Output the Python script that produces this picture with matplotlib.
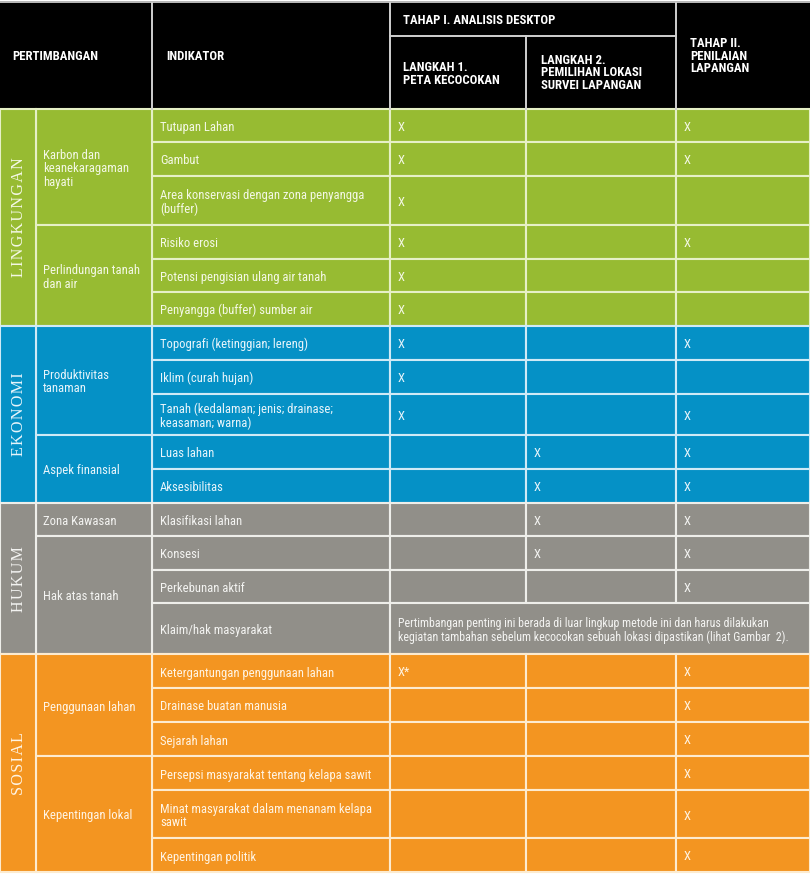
import matplotlib
matplotlib.use("Agg")
import matplotlib.pyplot as plt
from matplotlib.patches import Rectangle

# ---------------- data ----------------
section_names = ["LINGKUNGAN", "EKONOMI", "HUKUM", "SOSIAL"]
section_sizes = [6, 5, 4, 6]

group_labels = ["Karbon dan\nkeanekaragaman\nhayati", "Perlindungan tanah\ndan air",
                "Produktivitas\ntanaman", "Aspek finansial",
                "Zona Kawasan", "Hak atas tanah",
                "Penggunaan lahan", "Kepentingan lokal"]
group_sizes = [3, 3, 3, 2, 1, 3, 3, 3]

indicators = ["Tutupan Lahan", "Gambut", "Area konservasi dengan zona penyangga\n(buffer)",
              "Risiko erosi", "Potensi pengisian ulang air tanah", "Penyangga (buffer) sumber air",
              "Topografi (ketinggian; lereng)", "Iklim (curah hujan)",
              "Tanah (kedalaman; jenis; drainase;\nkeasaman; warna)", "Luas lahan", "Aksesibilitas",
              "Klasifikasi lahan", "Konsesi", "Perkebunan aktif", "Klaim/hak masyarakat",
              "Ketergantungan penggunaan lahan", "Drainase buatan manusia", "Sejarah lahan",
              "Persepsi masyarakat tentang kelapa sawit",
              "Minat masyarakat dalam menanam kelapa\nsawit", "Kepentingan politik"]

langkah1 = ["X", "X", "X", "X", "X", "X", "X", "X", "X", "", "",
            "", "", "", None, "X*", "", "", "", "", ""]
langkah2 = ["", "", "", "", "", "", "", "", "", "X", "X",
            "X", "X", "", None, "", "", "", "", "", ""]
tahap2 = ["X", "X", "", "X", "", "", "X", "", "X", "X", "X",
          "X", "X", "X", None, "X", "X", "X", "X", "X", "X"]
klaim_note = ("Pertimbangan penting ini berada di luar lingkup metode ini dan harus dilakukan\n"
              "kegiatan tambahan sebelum kecocokan sebuah lokasi dipastikan (lihat Gambar  2).")

header_cols = ["PERTIMBANGAN", "INDIKATOR", "TAHAP I. ANALISIS DESKTOP",
               "LANGKAH 1.\nPETA KECOCOKAN", "LANGKAH 2.\nPEMILIHAN LOKASI\nSURVEI LAPANGAN",
               "TAHAP II.\nPENILAIAN\nLAPANGAN"]

# ---------------- layout / style ----------------
row_heights = [33.5, 33.5, 49.5, 33.5, 33.5, 33.5,
               34, 34, 41, 34, 34,
               33.5, 33.5, 33.5, 51,
               34, 34, 34, 34, 48, 34]
sec_fill = ["#97BB32", "#0591C6", "#918F89", "#F39521"]
sec_line = ["#E6F0C6", "#CFEAF6", "#EEEEEA", "#FDEBCF"]
sec_text = ["#F4F8E6", "#E8F5FB", "#F4F4F2", "#FFF4E4"]
col_x = [0, 36, 152, 390, 526, 676, 810]
top_body = 109
hdr_top = 3
dy = 1.5  # small downward nudge of body text

narrow = ["Roboto Condensed", "DejaVu Sans"]
serif = ["Liberation Serif", "DejaVu Serif"]

fig = plt.figure(figsize=(8.1, 8.8), dpi=100)
ax = fig.add_axes([0, 0, 1, 1])
ax.set_xlim(0, 810)
ax.set_ylim(880, 0)
ax.axis("off")

# header
ax.add_patch(Rectangle((0, hdr_top), 810, top_body - hdr_top, fc="black", ec="none"))
ax.plot([0, 810], [hdr_top - 1, hdr_top - 1], color="#AAAAAA", lw=1.2)
hl = "#D0D0D0"
for x in [152, 390, 676]:
    ax.plot([x, x], [hdr_top, top_body], color=hl, lw=1.4)
ax.plot([526, 526], [36, top_body], color=hl, lw=1.4)
ax.plot([390, 676], [36, 36], color=hl, lw=1.4)
hkw = dict(color="white", fontsize=9.2, fontweight="bold", family=narrow, va="center",
           ha="left", linespacing=0.98)
ax.text(12, 56, header_cols[0], **hkw)
ax.text(166, 56, header_cols[1], **hkw)
ax.text(403, 20, header_cols[2], **hkw)
ax.text(403, 74, header_cols[3], **hkw)
ax.text(541, 73, header_cols[4], **hkw)
ax.text(690, 56, header_cols[5], **hkw)

ys = [top_body]
for h in row_heights:
    ys.append(ys[-1] + h)

row_sec = []
for si, n in enumerate(section_sizes):
    row_sec += [si] * n

lw = 1.5
tkw = dict(fontsize=9.1, family=narrow, va="center", ha="left", linespacing=1.05)
nkw = dict(tkw, fontsize=8.6)

for i, ind in enumerate(indicators):
    s = row_sec[i]
    y0, y1 = ys[i], ys[i + 1]
    h = y1 - y0
    yc = (y0 + y1) / 2 + dy
    fc, ec, tc = sec_fill[s], sec_line[s], sec_text[s]
    ax.add_patch(Rectangle((col_x[2], y0), col_x[3] - col_x[2], h, fc=fc, ec=ec, lw=lw))
    ax.text(col_x[2] + 8, yc, ind, color=tc, **tkw)
    if langkah1[i] is None:
        ax.add_patch(Rectangle((col_x[3], y0), col_x[6] - col_x[3], h, fc=fc, ec=ec, lw=lw))
        ax.text(col_x[3] + 8, yc, klaim_note, color=tc, **nkw)
        continue
    for c, vals in zip([3, 4, 5], [langkah1, langkah2, tahap2]):
        ax.add_patch(Rectangle((col_x[c], y0), col_x[c + 1] - col_x[c], h, fc=fc, ec=ec, lw=lw))
        if vals[i]:
            ax.text(col_x[c] + 8, yc, vals[i], color=tc, **tkw)

r = 0
for gl, gn in zip(group_labels, group_sizes):
    s = row_sec[r]
    y0, y1 = ys[r], ys[r + gn]
    ax.add_patch(Rectangle((col_x[1], y0), col_x[2] - col_x[1], y1 - y0,
                           fc=sec_fill[s], ec=sec_line[s], lw=lw))
    ax.text(col_x[1] + 7, (y0 + y1) / 2 + dy, gl, color=sec_text[s], **tkw)
    r += gn

r = 0
for si, (name, n) in enumerate(zip(section_names, section_sizes)):
    y0, y1 = ys[r], ys[r + n]
    ax.add_patch(Rectangle((col_x[0], y0), col_x[1] - col_x[0], y1 - y0,
                           fc=sec_fill[si], ec=sec_line[si], lw=lw))
    ax.text(19, (y0 + y1) / 2, "\u200a".join(name), color=sec_text[si], fontsize=11.5,
            family=serif, rotation=90, ha="center", va="center")
    r += n

fig.savefig("out.png", dpi=100)
